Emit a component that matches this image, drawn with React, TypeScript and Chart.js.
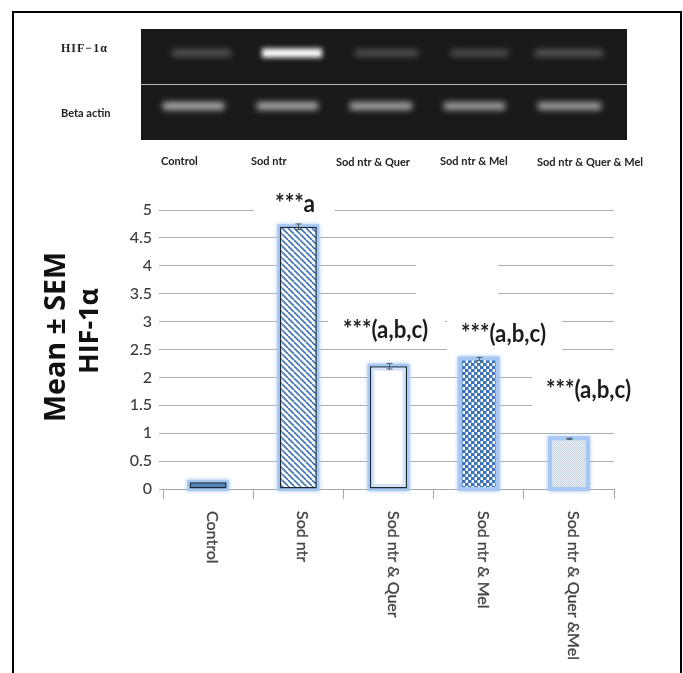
import React, { useEffect, useRef } from "react";
import { Chart, registerables } from "chart.js";

Chart.register(...registerables);

const categories = ["Control", "Sod ntr", "Sod ntr & Quer", "Sod ntr & Mel", "Sod ntr & Quer &Mel"];
const meanValues = [0.12, 4.7, 2.2, 2.33, 0.9];
const semValues = [0, 0.05, 0.05, 0.03, 0.01];
const yTickStep = 0.5;
const yMax = 5;
const annotations = ["***a", "***(a,b,c)", "***(a,b,c)", "***(a,b,c)"];
const gelLaneLabels = ["Control", "Sod ntr", "Sod ntr & Quer", "Sod ntr & Mel", "Sod ntr & Quer & Mel"];
const hifBandIntensity = [0.3, 1, 0.28, 0.27, 0.32];
const actinBandIntensity = [0.72, 0.7, 0.68, 0.66, 0.66];

const FONT = "Lato, 'Open Sans', sans-serif";

function pat(draw: (c: CanvasRenderingContext2D) => void, w: number, h: number, bg: string) {
  const t = document.createElement("canvas");
  t.width = w;
  t.height = h;
  const c = t.getContext("2d")!;
  c.fillStyle = bg;
  c.fillRect(0, 0, w, h);
  draw(c);
  return c.createPattern(t, "repeat")!;
}

function stripes() {
  return pat((c) => {
    c.strokeStyle = "#3f73b4";
    c.lineWidth = 1.6;
    for (const o of [-6, 0, 6]) {
      c.beginPath();
      c.moveTo(o, 0);
      c.lineTo(o + 6, 6);
      c.stroke();
    }
  }, 6, 6, "#ffffff");
}
function checker() {
  return pat((c) => {
    c.fillStyle = "#3f73b4";
    c.fillRect(0, 0, 3, 3);
    c.fillRect(3, 3, 3, 3);
    c.fillStyle = "#8fb0d8";
    c.fillRect(3, 0, 1, 3);
    c.fillRect(0, 3, 1, 3);
  }, 6, 6, "#f8fafd");
}
function dots() {
  return pat((c) => {
    c.fillStyle = "#c0cfe2";
    c.fillRect(0, 0, 1, 1);
    c.fillRect(1, 1, 1, 1);
  }, 2, 2, "#f0f3f8");
}

const gelPlugin = {
  id: "gel",
  beforeDraw(chart: any) {
    const c: CanvasRenderingContext2D = chart.ctx;
    c.save();
    c.fillStyle = "#ffffff";
    c.fillRect(0, 0, 683, 673);
    // page frame
    c.fillStyle = "#000000";
    c.fillRect(12, 11, 670, 2);
    c.fillRect(12, 11, 2, 662);
    c.fillRect(680, 11, 2, 662);
    // gel panel
    c.fillStyle = "#1a1a1a";
    c.fillRect(141, 29, 486, 111);
    c.fillStyle = "#b8b8b8";
    c.fillRect(141, 84, 486, 1);
    const up = [[170, 233], [260, 324], [353, 420], [449, 510], [533, 605]];
    const lo = [[161, 226], [255, 320], [348, 414], [442, 507], [536, 603]];
    const band = (r: number[], y: number, h: number, v: number, blur: number) => {
      const g = Math.round(26 + v * 229);
      c.filter = `blur(${blur}px)`;
      c.fillStyle = `rgb(${g},${g},${g})`;
      c.fillRect(r[0] + 2, y - h / 2, r[1] - r[0] - 4, h);
      c.filter = "none";
    };
    hifBandIntensity.forEach((v, i) => band(up[i], 53, v > 0.9 ? 9 : 6, v, v > 0.9 ? 2.5 : 3));
    actinBandIntensity.forEach((v, i) => band(lo[i], 106, 7, v, 3));
    // gel labels
    c.fillStyle = "#222222";
    c.textBaseline = "middle";
    c.font = "bold 12px 'Liberation Serif', serif";
    (c as any).letterSpacing = "1px";
    c.fillText("HIF\u22121\u03b1", 61, 49, 47);
    (c as any).letterSpacing = "0px";
    c.font = `bold 11px ${FONT}`;
    c.fillText("Beta actin", 61, 113, 51);
    const lx = [161, 251, 336, 440, 537];
    const lw = [37, 38, 77, 71, 109];
    const ly = [161, 161, 162, 161, 162];
    gelLaneLabels.forEach((t, i) => c.fillText(t, lx[i], ly[i], lw[i]));
    // y title
    c.save();
    c.translate(65, 337);
    c.rotate(-Math.PI / 2);
    c.textAlign = "center";
    c.textBaseline = "alphabetic";
    c.fillStyle = "#111111";
    c.font = "bold 29px 'Open Sans', sans-serif";
    c.fillText("Mean \u00b1 SEM", 0, 0, 170);
    c.font = "bold 27px 'Open Sans', sans-serif";
    c.fillText("HIF-1\u03b1", 6, 33, 88);
    c.restore();
    c.restore();
  },
  beforeDatasetsDraw(chart: any) {
    const c: CanvasRenderingContext2D = chart.ctx;
    c.save();
    // gaps in the gridlines behind the labels
    c.fillStyle = "#ffffff";
    for (const [x, y, w, h] of [
      [254, 203, 81, 14],
      [416, 259, 82, 44],
      [328, 315, 117, 14],
      [447, 315, 115, 42],
      [532, 370, 84, 44],
    ]) c.fillRect(x, y, w, h);
    // glow
    const meta = chart.getDatasetMeta(0);
    meta.data.forEach((b: any) => {
      const w = b.width;
      c.save();
      c.strokeStyle = "#a6c8f2";
      c.shadowColor = "#a6c8f2";
      c.shadowBlur = 4;
      c.lineWidth = 5;
      c.strokeRect(b.x - w / 2, b.y, w, b.base - b.y);
      c.restore();
    });
    c.restore();
  },
  afterDatasetsDraw(chart: any) {
    const c: CanvasRenderingContext2D = chart.ctx;
    const meta = chart.getDatasetMeta(0);
    const y = chart.scales.y;
    c.save();
    // inner glow of the open bar
    const q = meta.data[2];
    c.strokeStyle = "#d4e4f9";
    c.lineWidth = 3;
    c.strokeRect(q.x - q.width / 2 + 3, q.y + 3, q.width - 6, q.base - q.y - 6);
    // error bars
    c.strokeStyle = "#4a5a55";
    c.lineWidth = 1;
    meanValues.forEach((v, i) => {
      const e = semValues[i];
      if (!e) return;
      const x = Math.round(meta.data[i].x) + 0.5;
      const t = y.getPixelForValue(v + e);
      const m = y.getPixelForValue(v - e);
      c.beginPath();
      c.moveTo(x, t);
      c.lineTo(x, m);
      c.moveTo(x - 3, t);
      c.lineTo(x + 3, t);
      c.moveTo(x - 3, m);
      c.lineTo(x + 3, m);
      c.stroke();
    });
    // significance labels
    c.fillStyle = "#1c1c1c";
    c.textBaseline = "alphabetic";
    c.font = `bold 24px ${FONT}`;
    const ax = [275, 343, 461, 546];
    const ay = [212, 338, 342, 398];
    const aw = [40, 85, 85, 85];
    annotations.forEach((t, i) => c.fillText(t, ax[i], ay[i], aw[i]));
    // category labels, reading downward
    c.fillStyle = "#444444";
    c.strokeStyle = "#444444";
    c.lineWidth = 0.35;
    c.font = `16px ${FONT}`;
    const sx = chart.scales.x;
    categories.forEach((t, i) => {
      c.save();
      c.translate(sx.getPixelForTick(i) - 1, 511);
      c.rotate(Math.PI / 2);
      c.fillText(t, 0, 0);
      c.strokeText(t, 0, 0);
      c.restore();
    });
    c.restore();
  },
};

export default function App() {
  const ref = useRef<HTMLCanvasElement>(null);
  useEffect(() => {
    document.body.style.margin = "0";
    const chart = new Chart(ref.current!, {
      type: "bar",
      data: {
        labels: categories,
        datasets: [
          {
            data: meanValues,
            backgroundColor: ["#4f81bd", stripes(), "#ffffff", checker(), dots()],
            borderColor: ["#1c2733", "#1c2733", "#1c2733", "rgba(0,0,0,0)", "rgba(0,0,0,0)"],
            borderWidth: 1.5,
            borderSkipped: false,
            barPercentage: 0.41,
            categoryPercentage: 1,
          },
        ],
      },
      options: {
        responsive: false,
        animation: false,
        devicePixelRatio: 1,
        layout: { padding: { top: 210, right: 69, left: 0, bottom: 0 } },
        plugins: { legend: { display: false }, tooltip: { enabled: false } },
        scales: {
          x: {
            afterFit: (s: any) => { s.height = 184; },
            grid: { drawOnChartArea: false, tickLength: 10, color: "#a8a8a8" },
            border: { color: "#a8a8a8" },
            ticks: { display: false },
          },
          y: {
            min: 0,
            max: yMax,
            afterFit: (s: any) => { s.width = 163; },
            grid: { color: "#adadad", tickLength: 4 },
            border: { display: false },
            ticks: {
              stepSize: yTickStep,
              padding: 7,
              color: "#3c3c3c",
              font: { family: FONT, size: 16, weight: "500" },
              callback: (v: any) => String(v),
            },
          },
        },
      },
      plugins: [gelPlugin],
    } as any);
    return () => chart.destroy();
  }, []);
  return (
    <canvas
      ref={ref}
      width={683}
      height={673}
      style={{ position: "absolute", left: 0, top: 0, width: 683, height: 673, filter: "blur(0.45px)" }}
    />
  );
}
